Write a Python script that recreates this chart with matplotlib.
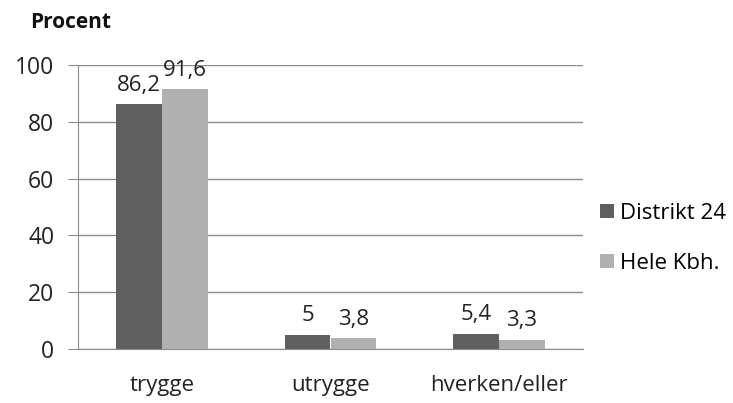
import matplotlib
matplotlib.use("Agg")
import matplotlib.pyplot as plt
import numpy as np

categories = ["trygge", "utrygge", "hverken/eller"]
series_names = ["Distrikt 24", "Hele Kbh."]
distrikt = [86.2, 5, 5.4]
hele = [91.6, 3.8, 3.3]
labels_d = ["86,2", "5", "5,4"]
labels_h = ["91,6", "3,8", "3,3"]
yticks = [0, 20, 40, 60, 80, 100]

plt.rcParams['font.family'] = ['Open Sans', 'DejaVu Sans']

fig = plt.figure(figsize=(7.33, 4.03), dpi=100)
ax = fig.add_axes([78/733, 1-349/403, (583-78)/733, (349-65)/403])

x = np.arange(len(categories))
w = 0.273
c1, c2 = "#5f5f5f", "#b0b0b0"
ax.bar(x - w/2, distrikt, w, color=c1, label=series_names[0], zorder=3)
ax.bar(x + w/2, hele, w, color=c2, label=series_names[1], zorder=3)

for xi, v, t in zip(x - w/2, distrikt, labels_d):
    ax.annotate(t, (xi, v), xytext=(0, 6), textcoords="offset points",
                ha="center", va="bottom", fontsize=16, color="#222222", zorder=4)
for xi, v, t in zip(x + w/2, hele, labels_h):
    ax.annotate(t, (xi, v), xytext=(0, 6), textcoords="offset points",
                ha="center", va="bottom", fontsize=16, color="#222222", zorder=4)

ax.set_xlim(-0.5, 2.5)
ax.set_ylim(0, 100)
ax.set_yticks(yticks)
ax.set_yticklabels([str(v) for v in yticks], fontsize=16.5)
ax.yaxis.grid(True, color="#8c8c8c", linewidth=1, zorder=0)
ax.tick_params(axis="y", length=7, color="#8c8c8c", pad=10, labelcolor="#222222")
ax.set_xticks(x)
ax.set_xticklabels(categories, fontsize=16, color="#222222")
ax.tick_params(axis="x", length=0, pad=19)
for s in ["top", "right"]:
    ax.spines[s].set_visible(False)
ax.spines["left"].set_color("#8c8c8c")
ax.spines["bottom"].set_color("#8c8c8c")

fig.text(30/733, 1-22/403, "Procent", fontsize=15, fontweight="bold", va="center", ha="left", color="#111111")

leg = ax.legend(loc="center left", bbox_to_anchor=(0.995, 0.39), frameon=False,
                fontsize=16, handlelength=0.6, handleheight=0.6, handletextpad=0.3,
                labelspacing=1.3)
fig.savefig("out.png", dpi=100)
